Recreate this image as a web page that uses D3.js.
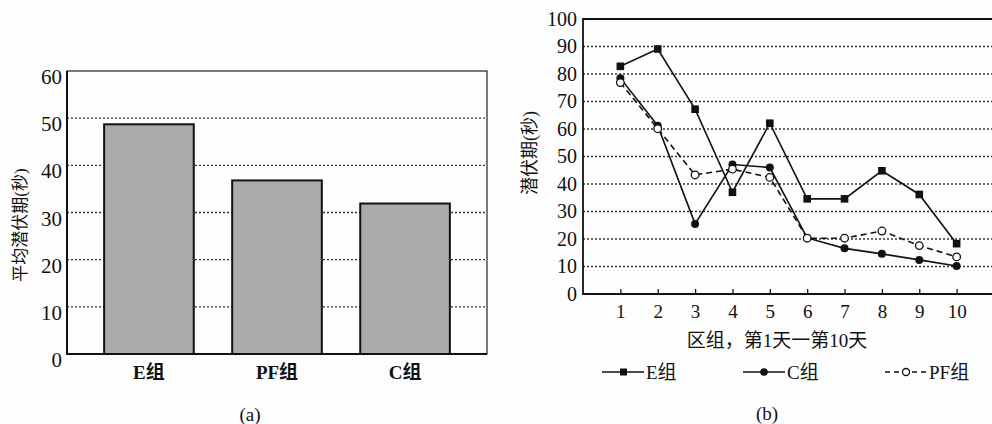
<!DOCTYPE html>
<html>
<head>
<meta charset="utf-8">
<script src="https://cdn.jsdelivr.net/npm/d3@7"></script>
<style>
  body { margin: 0; background: #fdfdfd; }
  svg text { font-family: "Liberation Serif", "Noto Sans CJK SC", serif; fill: #111; }
</style>
</head>
<body>
<svg id="chart" width="992" height="424"></svg>
<script>
// ---- data (a) ----
const groups = ['E组', 'PF组', 'C组']
const meanLatency = [48.7, 36.8, 31.9]
const yTicksA = [0, 10, 20, 30, 40, 50, 60]

// ---- data (b) ----
const days = [1, 2, 3, 4, 5, 6, 7, 8, 9, 10]
const seriesE = [82.8, 89.1, 67.2, 37.0, 62.1, 34.6, 34.6, 44.8, 36.2, 18.3]
const seriesC = [78.5, 61.2, 25.5, 47.1, 46.0, 20.4, 16.6, 14.6, 12.4, 10.2]
const seriesPF = [76.9, 60.1, 43.3, 45.4, 42.4, 20.3, 20.3, 22.9, 17.6, 13.5]
const yTicksB = [0, 10, 20, 30, 40, 50, 60, 70, 80, 90, 100]

const svg = d3.select('#chart')
const ink = '#111'
const serif = '"Liberation Serif", "Noto Sans CJK SC", serif'

/* ===== panel (a) ===== */
const a = { left: 67, right: 487, top: 71, bottom: 354 }
const xa = d3.scaleBand().domain(groups).range([a.left, a.right])
    .paddingInner(0.3).paddingOuter(0.29)
const ya = d3.scaleLinear().domain([0, 60]).range([a.bottom, a.top])

const ga = svg.append('g')

// dotted grid behind bars
ga.selectAll('line.grid')
    .data(yTicksA.filter(d => d > 0 && d < 60))
    .enter().append('line')
    .attr('class', 'grid')
    .attr('x1', a.left).attr('x2', a.right)
    .attr('y1', d => ya(d)).attr('y2', d => ya(d))
    .style('stroke', '#333')
    .style('stroke-width', 1.3)
    .style('stroke-dasharray', '2,2')

ga.selectAll('rect.bar')
    .data(meanLatency)
    .enter().append('rect')
    .attr('class', 'bar')
    .attr('x', (d, i) => xa(groups[i]))
    .attr('y', d => ya(d))
    .attr('width', xa.bandwidth())
    .attr('height', d => ya(0) - ya(d))
    .style('fill', '#ababab')
    .style('stroke', ink)
    .style('stroke-width', 2)

// frame
ga.append('rect')
    .attr('x', a.left).attr('y', a.top)
    .attr('width', a.right - a.left).attr('height', a.bottom - a.top)
    .style('fill', 'none').style('stroke', '#222').style('stroke-width', 1.2)
ga.append('path')
    .attr('d', `M${a.left},${a.top} V${a.bottom} H${a.right}`)
    .style('fill', 'none').style('stroke', ink).style('stroke-width', 2)

const axisA = d3.axisLeft(ya).tickValues(yTicksA).tickSize(0).tickPadding(5)
ga.append('g')
    .attr('transform', `translate(${a.left},0)`)
    .call(axisA)
    .call(g => g.select('.domain').remove())
    .selectAll('text')
    .style('font-family', serif)
    .style('font-size', '21px')
    .attr('dy', '0.6em')

const axisAx = d3.axisBottom(xa).tickSize(0).tickPadding(10)
ga.append('g')
    .attr('transform', `translate(0,${a.bottom})`)
    .call(axisAx)
    .call(g => g.select('.domain').remove())
    .selectAll('text')
    .style('font-family', serif)
    .style('font-size', '19px')
    .style('font-weight', 'bold')
    .attr('dy', '0.8em')

ga.append('text')
    .attr('transform', `translate(26,225) rotate(-90)`)
    .attr('text-anchor', 'middle')
    .style('font-size', '17px')
    .text('平均潜伏期(秒)')

ga.append('text')
    .attr('x', 250).attr('y', 421)
    .attr('text-anchor', 'middle')
    .style('font-size', '19px')
    .text('(a)')

/* ===== panel (b) ===== */
const b = { left: 583, right: 994, top: 19, bottom: 294 }
const xb = d3.scaleLinear().domain([0, 11]).range([b.left, b.right])
const yb = d3.scaleLinear().domain([0, 100]).range([b.bottom, b.top])

const gb = svg.append('g')

gb.selectAll('line.grid')
    .data(yTicksB.filter(d => d > 0 && d < 100))
    .enter().append('line')
    .attr('class', 'grid')
    .attr('x1', b.left).attr('x2', b.right)
    .attr('y1', d => yb(d)).attr('y2', d => yb(d))
    .style('stroke', '#333')
    .style('stroke-width', 1.3)
    .style('stroke-dasharray', '2,2')

gb.append('path')
    .attr('d', `M${b.right},${b.top} H${b.left} V${b.bottom} H${b.right}`)
    .style('fill', 'none').style('stroke', ink).style('stroke-width', 1.8)

// inward ticks on x axis
const axisBx = d3.axisBottom(xb).tickValues(days).tickSizeInner(-5).tickSizeOuter(0).tickPadding(9)
gb.append('g')
    .attr('transform', `translate(0,${b.bottom})`)
    .call(axisBx)
    .call(g => g.select('.domain').remove())
    .call(g => g.selectAll('line').style('stroke', ink).style('stroke-width', 1.3))
    .selectAll('text')
    .style('font-family', serif)
    .style('font-size', '19px')
    .attr('dy', '0.8em')

const axisBy = d3.axisLeft(yb).tickValues(yTicksB).tickSize(0).tickPadding(6)
gb.append('g')
    .attr('transform', `translate(${b.left},0)`)
    .call(axisBy)
    .call(g => g.select('.domain').remove())
    .selectAll('text')
    .style('font-family', serif)
    .style('font-size', '20px')

const line = d3.line().x((d, i) => xb(days[i])).y(d => yb(d))

const drawSeries = (values, dash, marker) => {
    gb.append('path')
        .datum(values)
        .attr('d', line)
        .style('fill', 'none')
        .style('stroke', ink)
        .style('stroke-width', 1.6)
        .style('stroke-dasharray', dash)
    const pts = gb.selectAll(null).data(values).enter()
    if (marker === 'square') {
        pts.append('rect')
            .attr('x', (d, i) => xb(days[i]) - 3.8)
            .attr('y', d => yb(d) - 3.8)
            .attr('width', 7.6).attr('height', 7.6)
            .style('fill', ink)
    } else if (marker === 'dot') {
        pts.append('circle')
            .attr('cx', (d, i) => xb(days[i])).attr('cy', d => yb(d))
            .attr('r', 4)
            .style('fill', ink)
    } else {
        pts.append('circle')
            .attr('cx', (d, i) => xb(days[i])).attr('cy', d => yb(d))
            .attr('r', 3.8)
            .style('fill', '#fff').style('stroke', ink).style('stroke-width', 1.3)
    }
}
drawSeries(seriesC, null, 'dot')
drawSeries(seriesPF, '6,4', 'open')
drawSeries(seriesE, null, 'square')

gb.append('text')
    .attr('transform', `translate(536,153) rotate(-90)`)
    .attr('text-anchor', 'middle')
    .style('font-size', '18px')
    .text('潜伏期(秒)')

gb.append('text')
    .attr('x', 777).attr('y', 347)
    .attr('text-anchor', 'middle')
    .style('font-size', '19px')
    .text('区组，第1天一第10天')

// legend
const legend = [
    { x: 602, label: 'E组', dash: null, marker: 'square' },
    { x: 743, label: 'C组', dash: null, marker: 'dot' },
    { x: 885, label: 'PF组', dash: '5,4', marker: 'open' }
]
const lg = gb.selectAll('g.legend').data(legend).enter().append('g')
    .attr('class', 'legend')
    .attr('transform', d => `translate(${d.x},372)`)
lg.append('line')
    .attr('x1', 0).attr('x2', 42)
    .style('stroke', ink).style('stroke-width', 1.6)
    .style('stroke-dasharray', d => d.dash)
lg.filter(d => d.marker === 'square').append('rect')
    .attr('x', 18).attr('y', -3.5).attr('width', 7).attr('height', 7).style('fill', ink)
lg.filter(d => d.marker === 'dot').append('circle')
    .attr('cx', 21).attr('r', 3.8).style('fill', ink)
lg.filter(d => d.marker === 'open').append('circle')
    .attr('cx', 21).attr('r', 3.5).style('fill', '#fff').style('stroke', ink).style('stroke-width', 1.3)
lg.append('text')
    .attr('x', 44).attr('y', 7)
    .style('font-size', '19px')
    .text(d => d.label)

gb.append('text')
    .attr('x', 767).attr('y', 420)
    .attr('text-anchor', 'middle')
    .style('font-size', '19px')
    .text('(b)')
</script>
</body>
</html>
